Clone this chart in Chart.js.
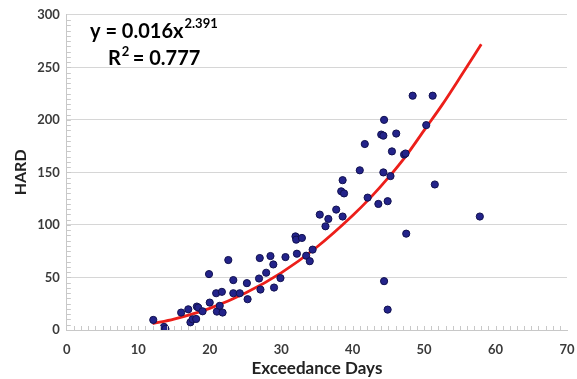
<!DOCTYPE html>
<html>
<head>
<meta charset="utf-8">
<script src="https://cdn.jsdelivr.net/npm/chart.js@4/dist/chart.umd.min.js"></script>
<style>
  html, body { margin: 0; padding: 0; background: #fff; }
  #wrap { width: 577px; height: 379px; position: relative; }
</style>
</head>
<body>
<div id="wrap"><canvas id="hardChart"></canvas></div>
<script>
// observed points: exceedance days vs HARD
const exceedanceDays = [
  12.1, 13.6, 13.8, 16.0, 17.0, 17.3, 17.6, 18.1, 18.2, 18.4,
  19.0, 19.9, 20.0, 20.9, 21.7, 21.0, 21.4, 21.8, 22.6, 23.3,
  23.3, 24.2, 25.2, 25.3, 27.0, 26.9, 27.1, 27.9, 28.5, 28.9,
  29.0, 29.9, 30.6, 32.0, 32.1, 32.9, 32.2, 33.5, 34.0, 34.4,
  35.4, 36.6, 36.2, 37.7, 38.6, 38.6, 38.4, 38.8, 41.0, 41.7,
  42.1, 43.6, 44.9, 44.3, 45.3, 44.4, 44.0, 44.3, 46.1, 45.5,
  47.2, 47.4, 48.4, 51.2, 50.3, 51.5, 57.8, 47.5, 44.4, 44.9
];
const hardValues = [
  9.6, 3, 1, 16.6, 19.7, 7.3, 10.2, 10.5, 22.3, 21.3,
  17.8, 53.2, 26.1, 35, 36.3, 17.5, 23, 16.6, 66.6, 47.5,
  35, 35, 44.6, 29.3, 68.5, 49, 38.5, 54.5, 70.4, 62.4,
  40.4, 49.4, 69.4, 89.1, 86, 87.6, 72.6, 70.7, 65.5, 76.5,
  109.8, 105.7, 98.7, 114.6, 108, 142.6, 132, 130, 152, 177,
  126, 120, 122.6, 150, 146.5, 200, 186, 185, 187, 170,
  167, 168, 223, 223, 195, 138.5, 108, 91.7, 46.5, 19.4
];

// power trendline as drawn in the picture
const trendDays = [12, 15, 20, 25, 30, 35, 40, 42.5, 45, 47.5, 50, 52.5, 55, 58];
const trendHard = [6.1, 10.4, 20.6, 35.2, 54.4, 79, 109, 126, 145, 166, 190, 214, 240, 272];

const equationText = 'y = 0.016x';
const exponentText = '2.391';
const r2Label = 'R';
const r2Text = ' = 0.777';

const labelFont = 'Lato, "Open Sans", sans-serif';

// small minor ticks along both axes
const minorTicks = {
  id: 'minorTicks',
  afterDraw(chart) {
    const { ctx, chartArea: a, scales: { x, y } } = chart;
    ctx.save();
    ctx.strokeStyle = '#c8c8c8';
    ctx.lineWidth = 1;
    ctx.beginPath();
    for (let v = 1; v < 70; v++) {
      const px = Math.round(x.getPixelForValue(v)) + 0.5;
      ctx.moveTo(px, a.bottom);
      ctx.lineTo(px, a.bottom - 4);
    }
    for (let v = 5; v < 300; v += 5) {
      const py = Math.round(y.getPixelForValue(v)) + 0.5;
      ctx.moveTo(a.left, py);
      ctx.lineTo(a.left + 4, py);
    }
    ctx.stroke();
    ctx.restore();
  }
};

// trendline equation box
const equation = {
  id: 'equation',
  afterDraw(chart) {
    const { ctx } = chart;
    ctx.save();
    ctx.fillStyle = '#000';
    ctx.textBaseline = 'alphabetic';
    ctx.font = 'bold 20px ' + labelFont;
    ctx.fillText(equationText, 90, 38);
    const w = ctx.measureText(equationText).width;
    ctx.font = 'bold 13px ' + labelFont;
    ctx.fillText(exponentText, 90 + w + 1, 28);
    ctx.font = 'bold 20px ' + labelFont;
    ctx.fillText(r2Label, 108, 65);
    const rw = ctx.measureText(r2Label).width;
    ctx.font = 'bold 13px ' + labelFont;
    ctx.fillText('2', 108 + rw + 1, 56);
    ctx.font = 'bold 20px ' + labelFont;
    ctx.fillText(r2Text, 108 + rw + 7, 65);
    ctx.restore();
  }
};

new Chart(document.getElementById('hardChart'), {
  type: 'scatter',
  data: {
    datasets: [
      {
        label: 'HARD',
        data: exceedanceDays.map((d, i) => ({ x: d, y: hardValues[i] })),
        backgroundColor: '#23238a',
        borderColor: '#111150',
        borderWidth: 1,
        pointRadius: 3.6,
        order: 1
      },
      {
        type: 'line',
        label: 'Power fit',
        data: trendDays.map((d, i) => ({ x: d, y: trendHard[i] })),
        borderColor: '#ec1f1a',
        borderWidth: 2.8,
        pointRadius: 0,
        cubicInterpolationMode: 'monotone',
        fill: false,
        order: 2
      }
    ]
  },
  options: {
    responsive: true,
    maintainAspectRatio: false,
    animation: false,
    layout: { padding: { top: 10, right: 0, left: 0, bottom: 0 } },
    plugins: {
      legend: { display: false },
      tooltip: { enabled: false }
    },
    scales: {
      x: {
        type: 'linear',
        min: 0,
        max: 70,
        afterFit(scale) {
          // keep the plot close to the right edge, fixed room below
          scale.paddingRight = 10;
          scale.height = 49;
        },
        ticks: { stepSize: 10, color: '#3a3a3a', font: { family: labelFont, size: 13, weight: 'bold' }, padding: 12 },
        grid: { display: false, drawTicks: false },
        border: { color: '#c8c8c8' },
        title: { display: true, text: 'Exceedance Days', color: '#222', font: { family: labelFont, size: 17, weight: 'bold' }, padding: { top: 0, bottom: 0 } }
      },
      y: {
        min: 0,
        max: 300,
        ticks: { stepSize: 50, color: '#3a3a3a', font: { family: labelFont, size: 13, weight: 'bold' }, padding: 7 },
        grid: { color: '#d6d6d6', drawTicks: false },
        border: { color: '#c8c8c8' },
        title: { display: true, text: 'HARD', color: '#222', font: { family: labelFont, size: 16, weight: 'bold' }, padding: { top: 11, bottom: 0 } }
      }
    }
  },
  plugins: [minorTicks, equation]
});
</script>
</body>
</html>
